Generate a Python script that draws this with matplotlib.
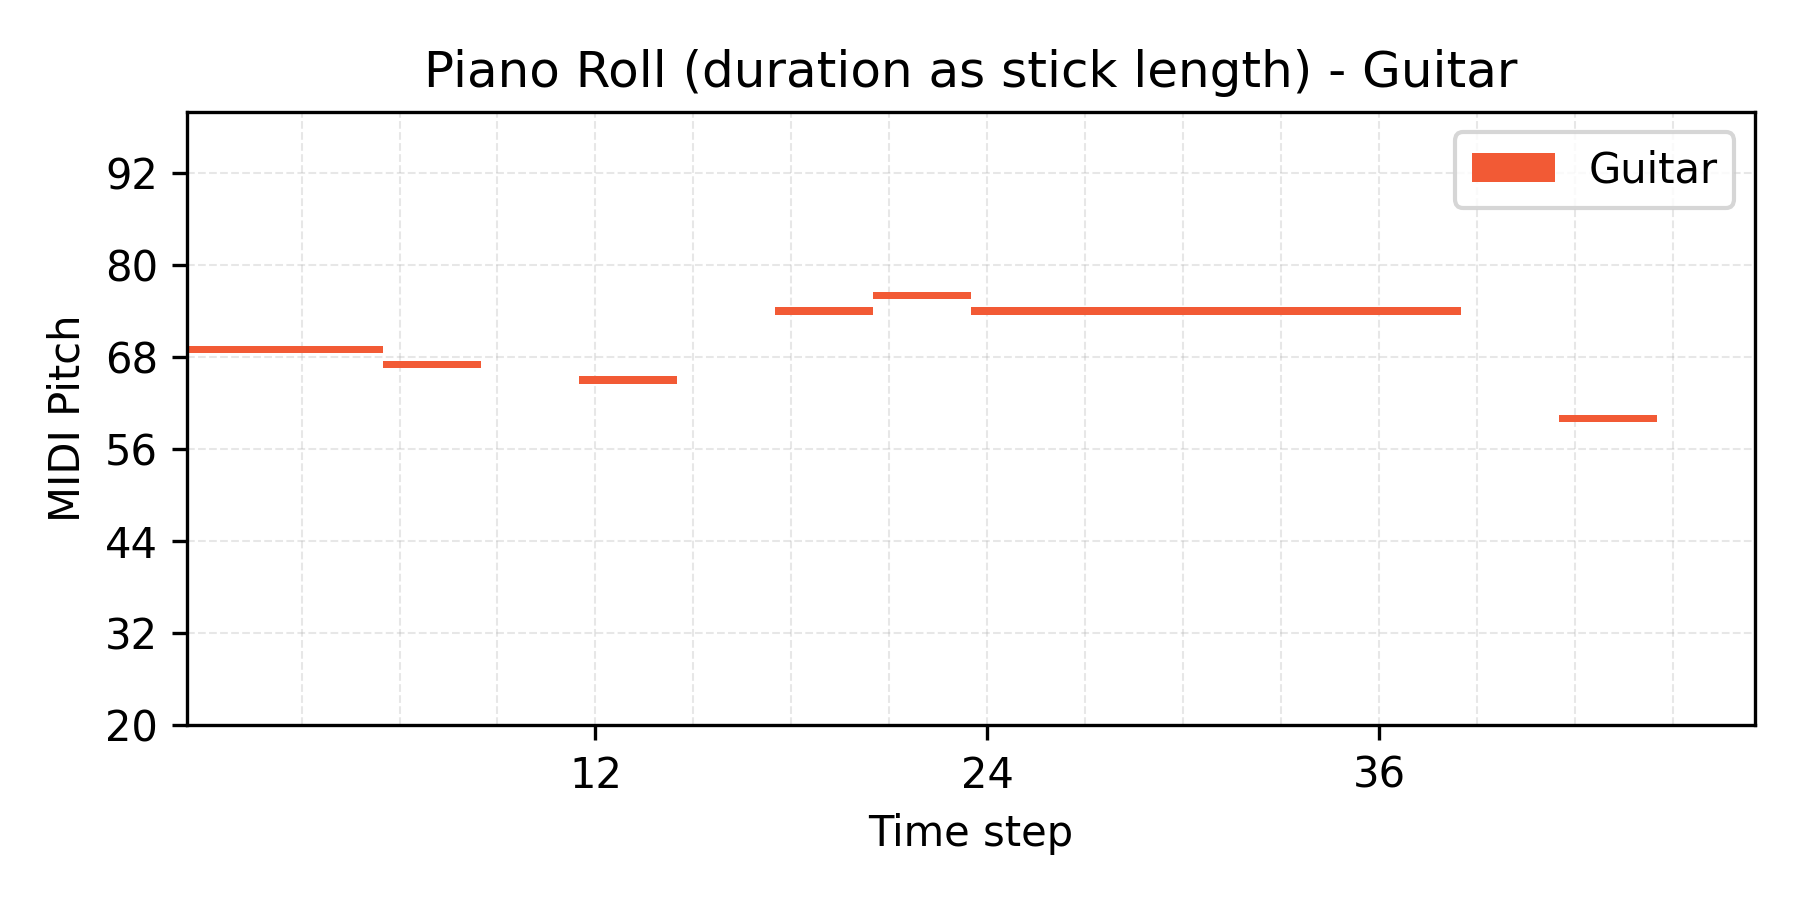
import numpy as np
import matplotlib
matplotlib.use("Agg")
import matplotlib.pyplot as plt

# Notas de la guitarra: inicio (paso), tono MIDI, duracion (pasos)
instrument = "Guitar"
starts = [0, 6, 12, 18, 21, 24, 42]
pitches = [69, 67, 65, 74, 76, 74, 60]
durations = [6, 3, 3, 3, 3, 15, 3]

n_steps = 48
major_xticks = [12, 24, 36]
yticks = [20, 32, 44, 56, 68, 80, 92]
color = "#F25A35"

fig, ax = plt.subplots(figsize=(6, 3), dpi=300)

left = np.array(starts) - 0.5
ax.barh(pitches, durations, left=left, height=0.95, color=color, label=instrument)

ax.set_xlim(-0.5, n_steps - 0.5)
ax.set_ylim(20, 100)
ax.set_xticks(major_xticks)
ax.set_xticks(range(3, n_steps, 3), minor=True)
ax.set_yticks(yticks)
ax.tick_params(which="minor", length=0)
ax.grid(which="both", linestyle="--", linewidth=0.5, alpha=0.3)
ax.set_axisbelow(True)

ax.set_title("Piano Roll (duration as stick length) - Guitar")
ax.set_xlabel("Time step")
ax.set_ylabel("MIDI Pitch")
ax.legend(loc="upper right")

fig.subplots_adjust(left=0.104, right=0.975, top=0.876, bottom=0.194)
fig.savefig("out.png")
